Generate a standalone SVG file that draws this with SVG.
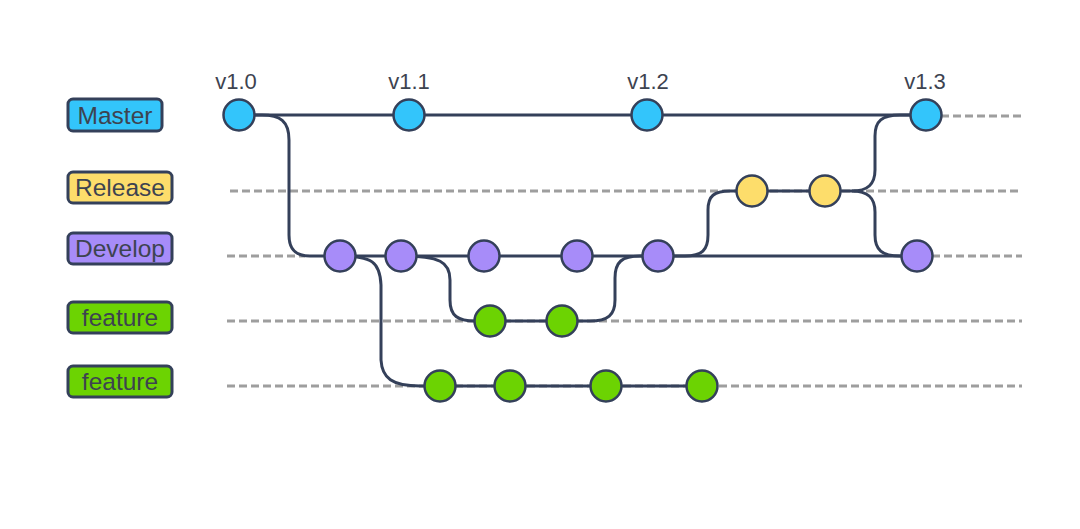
<svg xmlns="http://www.w3.org/2000/svg" width="1080" height="529" viewBox="0 0 1080 529">
<style>
.lane{stroke:#9e9e9e;stroke-width:3;stroke-dasharray:8 4;fill:none}
.edge{stroke:#34405a;stroke-width:3;fill:none}
.node{stroke:#34405a;stroke-width:2.5}
.m{fill:#33c5fb}.r{fill:#fddd6b}.d{fill:#a78cf9}.f{fill:#6cd302}
.box{stroke:#34405a;stroke-width:3}
.lbl{font-family:"Liberation Sans",Arial,sans-serif;font-size:24.5px;fill:#3d4350;text-anchor:middle;dominant-baseline:central}
.ver{font-family:"Liberation Sans",Arial,sans-serif;font-size:22px;fill:#3d4350;text-anchor:middle}
</style>
<rect width="1080" height="529" fill="#ffffff"/>
<g id="lanes">
<line class="lane" x1="941" y1="116" x2="1022" y2="116"/>
<line class="lane" x1="230" y1="191" x2="1022" y2="191"/>
<line class="lane" x1="227" y1="256" x2="305" y2="256"/>
<line class="lane" x1="932" y1="256" x2="1022" y2="256"/>
<line class="lane" x1="227" y1="321" x2="1022" y2="321"/>
<line class="lane" x1="227" y1="386" x2="1022" y2="386"/>
</g>
<g id="connectors">
<path class="edge" d="M240,115 H926"/>
<path class="edge" d="M240,115 H262 C280,115 289,121 289,140 V235 C289,250 296,256 310,256 H917"/>
<path class="edge" d="M340,256 C372,256 380,262 381,285 V360 C382,378 392,386 420,386 H702"/>
<path class="edge" d="M401,256 C440,256 450,262 450,280 V300 C450,316 458,321 475,321 H562"/>
<path class="edge" d="M562,321 H590 C608,321 615,315 615,300 V278 C615,262 622,256 640,256 H658"/>
<path class="edge" d="M658,256 H685 C702,256 708,250 708,235 V210 C708,196 714,191 730,191 H825"/>
<path class="edge" d="M825,191 H852 C868,191 875,184 875,170 V136 C875,121 882,115 900,115 H926"/>
<path class="edge" d="M852,191 C868,191 875,198 875,212 V235 C875,250 882,256 900,256 H917"/>
</g>
<g id="label-master"><rect class="box m" x="68" y="99" width="94" height="32" rx="5"/><text class="lbl" x="115" y="115">Master</text></g>
<g id="label-release"><rect class="box r" x="68" y="172" width="104" height="31" rx="5"/><text class="lbl" x="120" y="187">Release</text></g>
<g id="label-develop"><rect class="box d" x="68" y="233" width="104" height="31" rx="5"/><text class="lbl" x="120" y="248">Develop</text></g>
<g id="label-feature1"><rect class="box f" x="68" y="302" width="104" height="31" rx="5"/><text class="lbl" x="120" y="317">feature</text></g>
<g id="label-feature2"><rect class="box f" x="68" y="366" width="104" height="31" rx="5"/><text class="lbl" x="120" y="381">feature</text></g>
<g id="master-v10"><circle class="node m" cx="239" cy="115" r="15.5"/><text class="ver" x="236" y="89">v1.0</text></g>
<g id="master-v11"><circle class="node m" cx="409" cy="115" r="15.5"/><text class="ver" x="409" y="89">v1.1</text></g>
<g id="master-v12"><circle class="node m" cx="647" cy="115" r="15.5"/><text class="ver" x="648" y="89">v1.2</text></g>
<g id="master-v13"><circle class="node m" cx="926" cy="115" r="15.5"/><text class="ver" x="925" y="89">v1.3</text></g>
<g id="release-1"><circle class="node r" cx="752" cy="191" r="15.5"/></g>
<g id="release-2"><circle class="node r" cx="825" cy="191" r="15.5"/></g>
<g id="develop-1"><circle class="node d" cx="340" cy="256" r="15.5"/></g>
<g id="develop-2"><circle class="node d" cx="401" cy="256" r="15.5"/></g>
<g id="develop-3"><circle class="node d" cx="484" cy="256" r="15.5"/></g>
<g id="develop-4"><circle class="node d" cx="577" cy="256" r="15.5"/></g>
<g id="develop-5"><circle class="node d" cx="658" cy="256" r="15.5"/></g>
<g id="develop-6"><circle class="node d" cx="917" cy="256" r="15.5"/></g>
<g id="feature1-1"><circle class="node f" cx="490" cy="321" r="15.5"/></g>
<g id="feature1-2"><circle class="node f" cx="562" cy="321" r="15.5"/></g>
<g id="feature2-1"><circle class="node f" cx="440" cy="386" r="15.5"/></g>
<g id="feature2-2"><circle class="node f" cx="510" cy="386" r="15.5"/></g>
<g id="feature2-3"><circle class="node f" cx="606" cy="386" r="15.5"/></g>
<g id="feature2-4"><circle class="node f" cx="702" cy="386" r="15.5"/></g>
</svg>
